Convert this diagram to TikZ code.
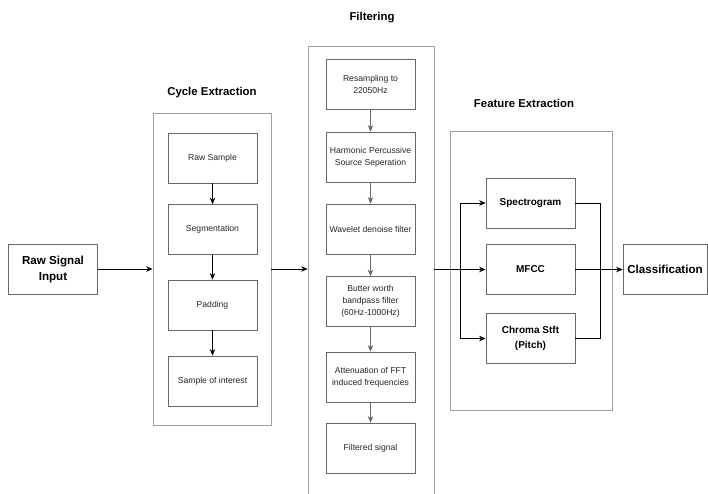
\documentclass[tikz,border=0pt]{standalone}
\usepackage{fontspec}
\setmainfont{Liberation Sans}
\usetikzlibrary{arrows.meta}

\begin{document}
\begin{tikzpicture}[x=1pt,y=-1pt]
      \tikzstyle{every node}=[font=\fontsize{8.6}{12}\selectfont, text=black!85]
      \tikzstyle{stage}=[draw=gray!75, line width=0.8pt, inner sep=0pt]
      \tikzstyle{blk}=[draw=gray!80!black, line width=0.8pt, minimum width=89pt, minimum height=50pt, align=center, inner sep=1pt]
      \tikzstyle{bigblk}=[blk, font=\bfseries\fontsize{11.6}{16}\selectfont, text=black]
      \tikzstyle{featblk}=[blk, font=\bfseries\fontsize{10}{15}\selectfont, text=black]
      \tikzstyle{title}=[font=\bfseries\fontsize{11.4}{13}\selectfont, text=black]
      \tikzstyle{arr}=[-{Stealth[length=6.5pt,width=5.5pt]}, line width=0.7pt]
      \useasboundingbox (0,0) rectangle (708,493);
      %%% HELP LINES - uncomment to design/extend
      %\draw[step=50,gray,very thin] (0,0) grid (708,493);
      %% Input
      \node (raw) at (53,269) [bigblk] {Raw Signal\\Input};
      % Cycle extraction
      \node (cyc) at (212,269) [stage, minimum width=118pt, minimum height=312pt] {};
      \node (cyctitle) at (212,93) [title] {Cycle Extraction};
      \node (rs) at (212.5,158) [blk] {Raw Sample};
      \node (seg) at (212.5,229.5) [blk] {Segmentation};
      \node (pad) at (212.5,305) [blk] {Padding};
      \node (soi) at (212.5,381) [blk] {Sample of interest};
      % Filtering (open at the bottom)
      \node (filt) at (371,270) [stage, minimum width=126pt, minimum height=448pt] {};
      \node (filttitle) at (372,18) [title] {Filtering};
      \node (res) at (370.5,84) [blk] {Resampling to\\22050Hz};
      \node (hps) at (370.5,157) [blk] {Harmonic Percussive\\Source Seperation};
      \node (wav) at (370.5,229) [blk] {Wavelet denoise filter};
      \node (but) at (370.5,301.5) [blk] {Butter worth\\bandpass filter\\(60Hz-1000Hz)};
      \node (att) at (370.5,377) [blk] {Attenuation of FFT\\induced frequencies};
      \node (fsig) at (370.5,448) [blk] {Filtered signal};
      % Feature extraction
      \node (feat) at (531,270.5) [stage, minimum width=162pt, minimum height=279pt] {};
      \node (feattitle) at (524,103) [title] {Feature Extraction};
      \node (spec) at (530.5,203) [featblk] {Spectrogram};
      \node (mfcc) at (530.5,269.5) [featblk] {MFCC};
      \node (chroma) at (530.5,338.5) [featblk] {Chroma Stft\\(Pitch)};
      \coordinate (split) at (460,269.5);
      \coordinate (join) at (600,269.5);
      % Output
      \node (cls) at (665,269.5) [bigblk, minimum width=84pt] {Classification};
      %% Connectors
      \draw[arr] (raw) -- (cyc);
      \draw[arr] (cyc.east) -- (cyc.east -| filt.west);
      \draw[arr] (rs) -- (seg);
      \draw[arr] (seg) -- (pad);
      \draw[arr] (pad) -- (soi);
      \draw[arr, gray!80!black] (res) -- (hps);
      \draw[arr, gray!80!black] (hps) -- (wav);
      \draw[arr, gray!80!black] (wav) -- (but);
      \draw[arr, gray!80!black] (but) -- (att);
      \draw[arr, gray!80!black] (att) -- (fsig);
      \draw[line width=0.7pt] (filt.east |- split) -- (split);
      \draw[arr] (split) -- (mfcc);
      \draw[arr, line width=0.5pt] (split) |- (spec);
      \draw[arr, line width=0.5pt] (split) |- (chroma);
      \draw[line width=0.5pt] (spec) -| (join);
      \draw[line width=0.5pt] (chroma) -| (join);
      \draw[line width=0.7pt] (mfcc) -- (join);
      \draw[arr] (join) -- (cls);
\end{tikzpicture}
\end{document}
